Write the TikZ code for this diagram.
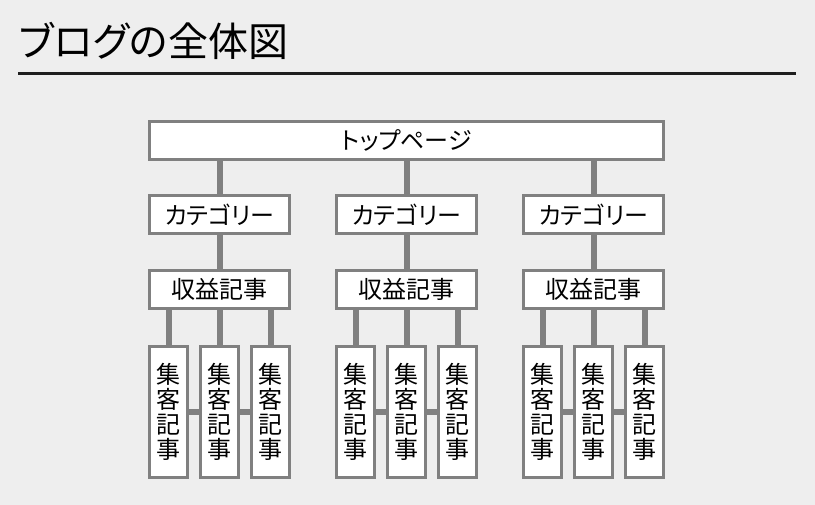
\documentclass[tikz,border=0pt]{standalone}
\usepackage{fontspec}
\setmainfont{Noto Sans CJK JP}[RawFeature={+palt}]
\usepackage{tikz}
\usetikzlibrary{positioning,calc}
\definecolor{paper}{RGB}{238,238,238}
\definecolor{frame}{RGB}{128,128,128}
\definecolor{inkline}{RGB}{30,30,30}
\tikzset{
    pagebox/.style={rectangle,draw=frame,line width=3pt,fill=white,inner sep=0pt,font=\fontsize{24}{26}\selectfont},
    topbox/.style={pagebox,minimum width=514pt,minimum height=38pt},
    catbox/.style={pagebox,minimum width=140pt,minimum height=38pt},
    postbox/.style={pagebox,minimum width=38pt,minimum height=131pt,align=center,font=\fontsize{24}{25}\selectfont},
    link/.style={draw=frame,line width=6pt},
}

\begin{document}
\begin{tikzpicture}[x=1pt,y=-1pt]
\useasboundingbox[fill=paper] (0,0) rectangle (815,505);
% heading
\node[anchor=west,inner sep=0pt,font=\fontsize{40}{42}\selectfont] (title) at (19,40.5) {ブログの全体図};
\coordinate (ruleL) at (18,73.5);
\coordinate (ruleR) at (796,73.5);
\draw[inkline,line width=3pt] (ruleL) -- (ruleR);

\node[topbox] (top) at (406.5,140.5) {トップページ};
\foreach \c/\x in {1/219.5,2/406.5,3/593.5}{
  \node[catbox] (cat\c) at (\x,214.5) {カテゴリー};
  \node[catbox] (rev\c) at (\x,289.5) {収益記事};
  \foreach \k/\dx in {1/-51,2/0,3/51}
    \node[postbox] (post\c\k) at (\x+\dx,412) {集\\客\\記\\事};
  \draw[link] (cat\c.north) -- (cat\c.north |- top.south);
  \draw[link] (rev\c.north) -- (rev\c.north |- cat\c.south);
  \foreach \k in {1,2,3}
    \draw[link] (post\c\k.north) -- (post\c\k.north |- rev\c.south);
  \draw[link] (post\c1) -- (post\c2);
  \draw[link] (post\c2) -- (post\c3);
}
\end{tikzpicture}
\end{document}
